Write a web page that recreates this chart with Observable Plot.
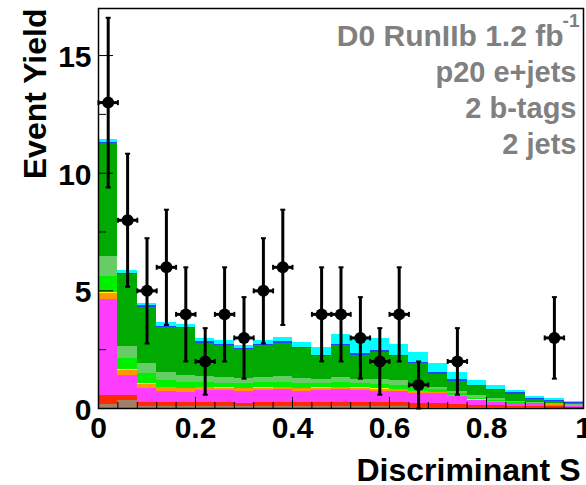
<!DOCTYPE html>
<html>
<head>
<meta charset="utf-8">
<script src="https://cdn.jsdelivr.net/npm/d3@7"></script>
<script src="https://cdn.jsdelivr.net/npm/@observablehq/plot@0.6"></script>
<style>
  html, body { margin: 0; padding: 0; background: #fff; overflow: hidden; }
  #chart svg { display: block; }
</style>
</head>
<body>
<div id="chart"></div>
<script>
// Discriminant histogram bins (25 bins of width 0.04)
const binEdges = [0, 0.04, 0.08, 0.12, 0.16, 0.20, 0.24, 0.28, 0.32, 0.36, 0.40, 0.44, 0.48,
  0.52, 0.56, 0.60, 0.64, 0.68, 0.72, 0.76, 0.80, 0.84, 0.88, 0.92, 0.96, 1.00];

// Observed events per bin
const dataCounts = [13, 8, 5, 6, 4, 2, 4, 3, 5, 6, 0, 4, 4, 3, 2, 4, 1, 0, 2, 0, 0, 0, 0, 3, 0];

// Predicted yields per bin, stacked bottom to top
const multijet = [0.17, 0.36, 0.10, 0.07, 0.07, 0.07, 0.07, 0.07, 0.07, 0.07, 0.07, 0.07, 0.07,
  0.07, 0.07, 0.07, 0.06, 0.06, 0.05, 0.04, 0.04, 0.03, 0.03, 0.02, 0.02];
const ttbarLL = [0.40, 0.20, 0.17, 0.19, 0.18, 0.20, 0.18, 0.16, 0.17, 0.17, 0.17, 0.17, 0.18,
  0.17, 0.17, 0.17, 0.16, 0.14, 0.13, 0.10, 0.08, 0.07, 0.05, 0.05, 0.04];
const ttbarLJ = [4.05, 0.85, 0.58, 0.46, 0.45, 0.51, 0.51, 0.51, 0.53, 0.56, 0.50, 0.53, 0.55,
  0.53, 0.48, 0.48, 0.43, 0.42, 0.32, 0.19, 0.15, 0.10, 0.08, 0.07, 0.04];
const zjets = [0.28, 0.20, 0.19, 0.16, 0.13, 0.10, 0.10, 0.10, 0.09, 0.08, 0.10, 0.09, 0.08,
  0.09, 0.10, 0.07, 0.07, 0.05, 0.04, 0.03, 0.02, 0.02, 0.01, 0.01, 0.01];
const diboson = [0.04, 0.03, 0.03, 0.03, 0.03, 0.03, 0.03, 0.03, 0.03, 0.03, 0.03, 0.03, 0.03,
  0.03, 0.03, 0.02, 0.02, 0.02, 0.02, 0.01, 0.01, 0.01, 0.01, 0.01, 0.01];
const wjj = [0.65, 0.47, 0.42, 0.28, 0.26, 0.19, 0.19, 0.18, 0.21, 0.21, 0.18, 0.19, 0.19,
  0.19, 0.18, 0.17, 0.14, 0.11, 0.08, 0.06, 0.04, 0.03, 0.02, 0.02, 0.01];
const wcc = [0.86, 0.54, 0.42, 0.34, 0.28, 0.28, 0.24, 0.22, 0.21, 0.22, 0.22, 0.16, 0.20,
  0.17, 0.21, 0.19, 0.14, 0.10, 0.08, 0.11, 0.07, 0.05, 0.04, 0.03, 0.03];
const wbb = [4.82, 3.04, 2.39, 1.92, 2.00, 1.40, 1.36, 1.25, 1.37, 1.44, 1.27, 0.96, 1.38,
  1.01, 1.16, 1.03, 0.88, 0.55, 0.44, 0.39, 0.34, 0.29, 0.14, 0.10, 0.04];
const tqb = [0.05, 0.06, 0.06, 0.05, 0.05, 0.06, 0.06, 0.05, 0.06, 0.06, 0.06, 0.06, 0.06,
  0.06, 0.06, 0.06, 0.06, 0.06, 0.06, 0.06, 0.06, 0.06, 0.05, 0.05, 0.04];
const tb = [0.10, 0.13, 0.11, 0.16, 0.10, 0.13, 0.16, 0.11, 0.15, 0.16, 0.22, 0.33, 0.40,
  0.68, 0.51, 0.46, 0.42, 0.41, 0.30, 0.20, 0.16, 0.11, 0.09, 0.07, 0.04];

const processNames = ["Multijet", "ttbar ll", "ttbar l+jets", "Z+jets", "Dibosons",
  "W+jj", "W+cc", "W+bb", "tqb", "tb"];
const processColors = ["#a08068", "#ff2a00", "#ff3dff", "#ff9900", "#ffff00",
  "#00f000", "#66cc66", "#00aa00", "#2244ff", "#00ffff"];
const processYields = [multijet, ttbarLL, ttbarLJ, zjets, diboson, wjj, wcc, wbb, tqb, tb];

// Axis ticks and labels
const yTickValues = [0, 5, 10, 15];
const yMinorValues = [2.5, 7.5, 12.5];
const xTickValues = [0, 0.2, 0.4, 0.6, 0.8, 1];
const xTickLabels = ["0", "0.2", "0.4", "0.6", "0.8", "1"];
const xMinorValues = binEdges.filter(v => !xTickValues.some(t => Math.abs(t - v) < 1e-9));

const xTitle = "Discriminant S";
const yTitle = "Event Yield";
const runLabel = "D0 RunIIb 1.2 fb";
const runLabelExponent = "-1";
const infoLines = ["p20 e+jets", "2 b-tags", "2 jets"];

// Layout
const W = 586, H = 485;
const mL = 98, mR = 3, mT = 8, mB = 77;
const plotW = W - mL - mR;
const plotH = H - mT - mB;
const font = "'Liberation Sans', Arial, Helvetica, sans-serif";
const gray = "#808080";

// Stacked rectangles (one per bin per process)
const stackRows = [];
for (let i = 0; i < binEdges.length - 1; i++) {
  let base = 0;
  processYields.forEach((vals, k) => {
    stackRows.push({lo: binEdges[i], hi: binEdges[i + 1], y1: base, y2: base + vals[i], process: processNames[k]});
    base += vals[i];
  });
}

// Data points with Poisson errors
const points = dataCounts
  .map((n, i) => ({lo: binEdges[i], hi: binEdges[i + 1], x: (binEdges[i] + binEdges[i + 1]) / 2, n}))
  .filter(d => d.n > 0);

const capH = {draw(ctx, size) { const r = Math.sqrt(size / Math.PI); ctx.moveTo(-r, 0); ctx.lineTo(r, 0); }};
const capV = {draw(ctx, size) { const r = Math.sqrt(size / Math.PI); ctx.moveTo(0, -r); ctx.lineTo(0, r); }};

const labelText = (data, opts) => Plot.text(data, {text: d => d, fontWeight: "bold", fontFamily: font, ...opts});

const chart = Plot.plot({
  width: W,
  height: H,
  marginLeft: mL,
  marginRight: mR,
  marginTop: mT,
  marginBottom: mB,
  style: {fontFamily: font, fontWeight: "bold", fontSize: "30px", color: "black", background: "white"},
  x: {domain: [0, 1]},
  y: {domain: [0, 17]},
  color: {domain: processNames, range: processColors},
  marks: [
    Plot.rect(stackRows, {x1: "lo", x2: "hi", y1: "y1", y2: "y2", fill: "process", shapeRendering: "crispEdges"}),
    // inward ticks
    Plot.tickY(yTickValues, {y: d => d, insetRight: plotW - 15, stroke: "black", strokeWidth: 1}),
    Plot.tickY(yMinorValues, {y: d => d, insetRight: plotW - 8, stroke: "black", strokeWidth: 1}),
    Plot.tickX(xTickValues, {x: d => d, insetTop: plotH - 11, stroke: "black", strokeWidth: 1}),
    Plot.tickX(xMinorValues, {x: d => d, insetTop: plotH - 6, stroke: "black", strokeWidth: 1}),
    Plot.frame({stroke: "black", strokeWidth: 1.5}),
    // tick labels
    Plot.axisY({ticks: yTickValues, tickSize: 0, tickPadding: 7, dy: 2, label: null, fontSize: 30}),
    Plot.axisX({ticks: xTickValues, tickSize: 0, tickPadding: 8, label: null, fontSize: 30,
      tickFormat: v => xTickLabels[xTickValues.findIndex(t => Math.abs(t - v) < 1e-9)]}),
    // data
    Plot.ruleX(points, {x: "x", y1: d => Math.max(0, d.n - Math.sqrt(d.n)), y2: d => d.n + Math.sqrt(d.n), stroke: "black", strokeWidth: 3}),
    Plot.ruleY(points, {y: "n", x1: "lo", x2: "hi", stroke: "black", strokeWidth: 3}),
    Plot.dot(points, {x: "x", y: d => d.n + Math.sqrt(d.n), symbol: capH, r: 2.5, fill: "none", stroke: "black", strokeWidth: 2}),
    Plot.dot(points, {x: "x", y: d => Math.max(0, d.n - Math.sqrt(d.n)), symbol: capH, r: 2.5, fill: "none", stroke: "black", strokeWidth: 2}),
    Plot.dot(points, {x: "lo", y: "n", symbol: capV, r: 2.5, fill: "none", stroke: "black", strokeWidth: 2}),
    Plot.dot(points, {x: "hi", y: "n", symbol: capV, r: 2.5, fill: "none", stroke: "black", strokeWidth: 2}),
    Plot.dot(points, {x: "x", y: "n", r: 6, fill: "black", stroke: "none"}),
    // axis titles
    labelText([yTitle], {frameAnchor: "top-left", rotate: -90, textAnchor: "end", lineAnchor: "middle",
      dx: -63, dy: 0, fontSize: 32, fill: "black"}),
    labelText([xTitle], {frameAnchor: "bottom-right", textAnchor: "end", lineAnchor: "bottom",
      dx: -3, dy: 72, fontSize: 32, fill: "black"}),
    // run information
    labelText([runLabel], {frameAnchor: "top-right", textAnchor: "end", lineAnchor: "bottom",
      dx: -20, dy: 37, fontSize: 30, fill: gray}),
    labelText([runLabelExponent], {frameAnchor: "top-right", textAnchor: "end", lineAnchor: "bottom",
      dx: -4, dy: 18, fontSize: 19, fill: gray}),
    ...infoLines.map((line, i) => labelText([line], {frameAnchor: "top-right", textAnchor: "end", lineAnchor: "bottom",
      dx: -7, dy: 73 + 36 * i, fontSize: 29, fill: gray}))
  ]
});

document.getElementById("chart").appendChild(chart);
</script>
</body>
</html>
